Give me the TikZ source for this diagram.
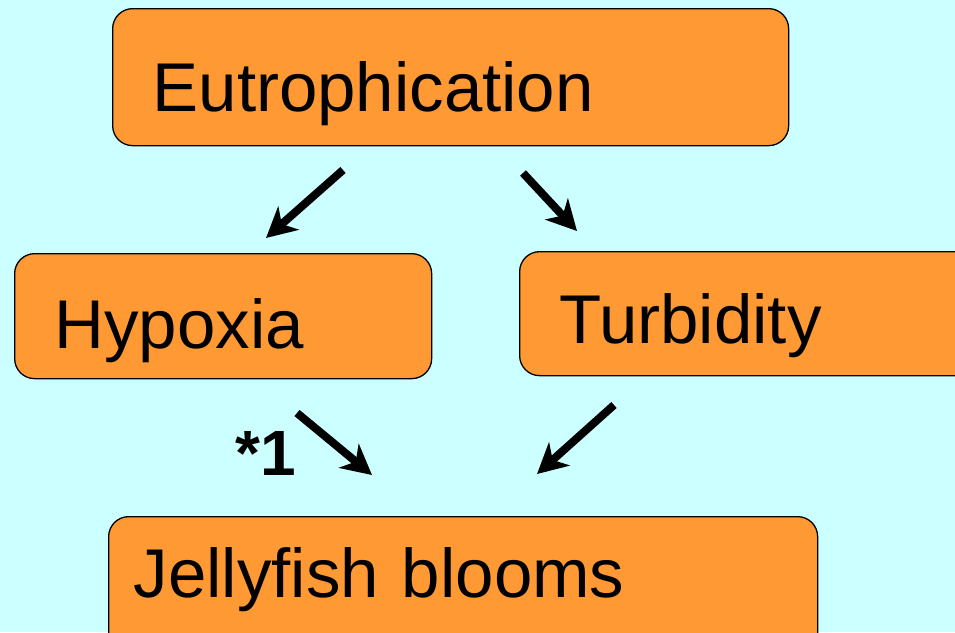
\documentclass[tikz,border=0pt]{standalone}
\usepackage{fontspec}
\setmainfont{Liberation Sans}
\usetikzlibrary{arrows.meta}
\definecolor{bgcyan}{HTML}{CCFFFF}
\definecolor{boxorange}{HTML}{FF9933}

\begin{document}
\begin{tikzpicture}[
    x=1pt, y=-1pt,
    box/.style={
        draw,
        line width=1.3pt,
        fill=boxorange,
        rounded corners=20pt,
        anchor=north west,
        inner xsep=40pt,
        inner ysep=0pt,
        align=left,
        font=\fontsize{69}{80}\selectfont
    },
    link/.style={
        line width=8pt,
        -{Stealth[length=30pt, width=31pt, inset=9pt]}
    }
]

\useasboundingbox (0,0) rectangle (955,632);
\clip (0,0) rectangle (955,632);
\fill[bgcyan] (0,0) rectangle (955,632);

\node[box, text width=596pt, text height=103pt, text depth=34pt] (eutro) at (112,8) {Eutrophication};
\node[box, text width=337pt, text height=95pt, text depth=30pt] (hypoxia) at (14,253) {Hypoxia};
\node[box, text width=381pt, text height=92pt, text depth=32pt] (turbid) at (519,251) {Turbidity};
\node[box, inner xsep=25pt, text width=659pt, text height=81pt, text depth=60pt] (jelly) at (108,516) {Jellyfish blooms};

% Arrow ends
\coordinate (eh-from) at (343,170);
\coordinate (eh-to) at (266,238);
\coordinate (et-from) at (523,173);
\coordinate (et-to) at (577,231);
\coordinate (hj-from) at (297,413);
\coordinate (hj-to) at (372,475);
\coordinate (tj-from) at (614,405);
\coordinate (tj-to) at (537,474);

\draw[link] (eh-from) -- (eh-to);
\draw[link] (et-from) -- (et-to);
\draw[link] (hj-from) -- (hj-to);
\draw[link] (tj-from) -- (tj-to);

% Footnote mark
\node[anchor=base west, inner sep=0pt, font=\fontsize{64}{70}\selectfont\bfseries] (note) at (235,475) {*1};

\end{tikzpicture}
\end{document}
